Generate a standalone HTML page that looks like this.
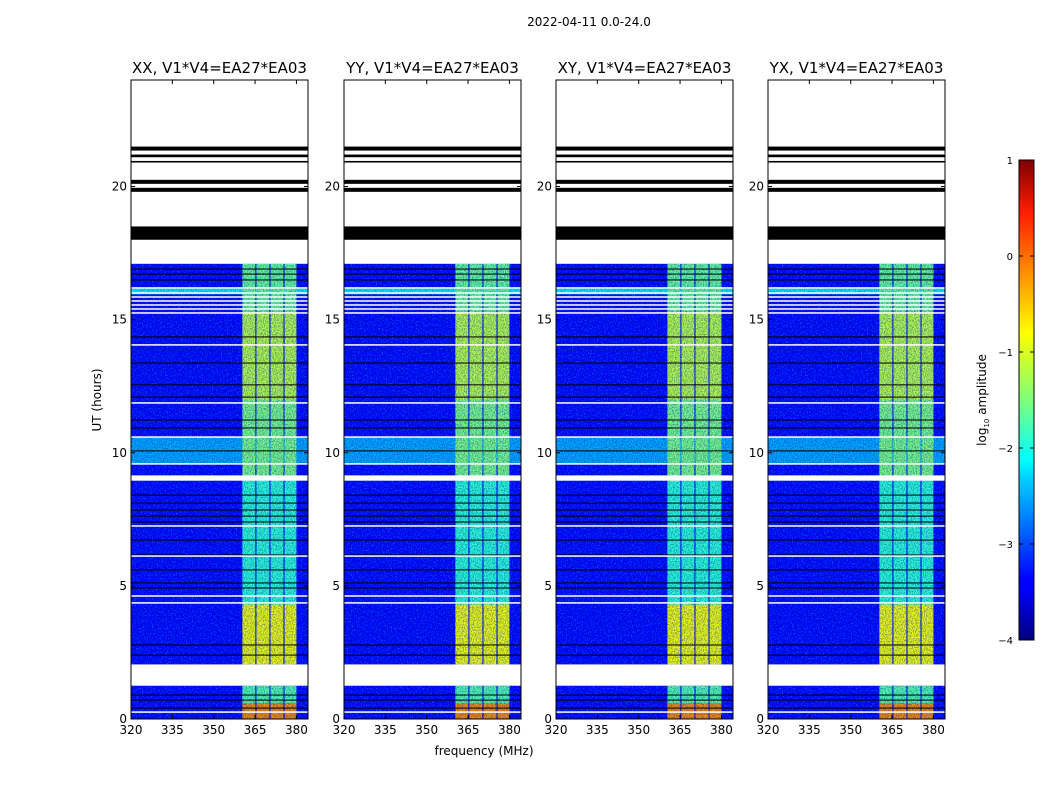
<!DOCTYPE html>
<html><head><meta charset="utf-8">
<style>
html,body{margin:0;padding:0;background:#fff;}
svg{display:block;font-family:"DejaVu Sans","Liberation Sans",sans-serif;}
</style></head>
<body>
<svg id="fig" width="1050" height="800" viewBox="0 0 1050 800" xmlns="http://www.w3.org/2000/svg">
<defs>
<filter id="noise" x="0" y="0" width="100%" height="100%">
<feTurbulence type="fractalNoise" baseFrequency="0.9 0.7" numOctaves="1" seed="3" result="t"/>
<feColorMatrix in="t" type="matrix" values="0 0 0 0 0  0 0 0 0 0  0 0 0 0 0.3  1.2 0 0 0 -0.45"/>
</filter>
<filter id="noise2" x="0" y="0" width="100%" height="100%">
<feTurbulence type="fractalNoise" baseFrequency="0.8 0.6" numOctaves="1" seed="11" result="t"/>
<feColorMatrix in="t" type="matrix" values="0 0 0 0 0  0 0 0 0 0.8  0 0 0 0 1  1.3 0 0 0 -0.62"/>
</filter>
<linearGradient id="jet" x1="0" y1="1" x2="0" y2="0">
<stop offset="0" stop-color="#00007f"/><stop offset="0.11" stop-color="#0000ff"/>
<stop offset="0.125" stop-color="#0000ff"/><stop offset="0.34" stop-color="#00d4ff"/>
<stop offset="0.375" stop-color="#00ffff"/><stop offset="0.5" stop-color="#7dff7a"/>
<stop offset="0.64" stop-color="#ffff00"/><stop offset="0.89" stop-color="#ff1e00"/>
<stop offset="1" stop-color="#7f0000"/>
</linearGradient>
</defs>
<text x="589" y="26" font-size="12" text-anchor="middle">2022-04-11 0.0-24.0</text>
<g id="panels"></g>
<text x="484" y="755" font-size="12" text-anchor="middle">frequency (MHz)</text>
<text transform="translate(101,400) rotate(-90)" font-size="12" text-anchor="middle">UT (hours)</text>
<g id="cbar"></g>
</svg>
<script>
const panelTitles = ["XX, V1*V4=EA27*EA03","YY, V1*V4=EA27*EA03","XY, V1*V4=EA27*EA03","YX, V1*V4=EA27*EA03"];
const xTicks = [320,335,350,365,380];
const yTicks = [0,5,10,15,20];
const cbarTicks = [1,0,-1,-2,-3,-4];
const channels = [[360.4,365.1],[365.5,370.2],[370.6,375.3],[375.7,380.0]];
const bgBlocks = [[0,17.1,-3.35],[9.6,10.6,-2.55],[15.95,16.2,-2.2]];
const bandBlocks = [[0,0.6,-0.3],[0.6,1.25,-1.7],[2.05,4.3,-0.9],[4.3,9.0,-1.9],[9.0,12.0,-1.5],[12.0,15.3,-1.2],[15.3,17.1,-1.6]];
const whiteBlocks = [[17.1,24],[1.25,2.05]];
const blackBands = [[21.35,21.5],[21.1,21.2],[20.9,20.96],[20.1,20.25],[19.8,19.95],[18.0,18.5]];
const blackLines = [16.9,16.71,16.49,14.35,13.37,12.55,12.09,11.23,10.93,10.07,8.41,8.11,7.85,7.62,7.40,6.72,6.16,5.60,5.11,4.92,2.78,2.40,0.90,0.71,0.41];
const whiteLines = [16.19,16.0,15.85,15.70,15.55,15.40,15.25,14.05,11.87,10.59,9.58,6.12,7.25,4.62,4.36,0.26];
const thickWhite = [[8.95,9.15]];
const panelLeft = [131,344,556,768];
const panelW = 177, yTop = 80, yBot = 719;
const fMin = 320, fMax = 384.2, hMin = 0, hMax = 24;
const NS="http://www.w3.org/2000/svg";
function el(t,a,p){const e=document.createElementNS(NS,t);for(const k in a)e.setAttribute(k,a[k]);p.appendChild(e);return e;}
function yS(h){return yBot-(h-hMin)/(hMax-hMin)*(yBot-yTop);}
function jet(v){
  let t=(v+4)/5; t=Math.max(0,Math.min(1,t));
  const r=Math.min(Math.max(Math.min(4*t-1.5,-4*t+4.5),0),1);
  const g=Math.min(Math.max(Math.min(4*t-0.5,-4*t+3.5),0),1);
  const b=Math.min(Math.max(Math.min(4*t+0.5,-4*t+2.5),0),1);
  return `rgb(${Math.round(r*255)},${Math.round(g*255)},${Math.round(b*255)})`;
}
const G=document.getElementById('panels');
panelTitles.forEach((title,i)=>{
  const x0=panelLeft[i];
  const xS=f=>x0+(f-fMin)/(fMax-fMin)*panelW;
  const g=el('g',{},G);
  
  
  const cp=el('clipPath',{id:'cp'+i},g); el('rect',{x:x0,y:yTop,width:panelW,height:yBot-yTop},cp);
  const img=el('g',{'clip-path':`url(#cp${i})`},g);
  
  
  bgBlocks.forEach(b=>{const r=el('rect',{x:x0,y:yS(b[1]),width:panelW,height:yS(b[0])-yS(b[1]),fill:jet(b[2])},img);
    });
  bandBlocks.forEach(b=>channels.forEach(c=>{
    const r=el('rect',{x:xS(c[0]),y:yS(b[1]),width:xS(c[1])-xS(c[0]),height:yS(b[0])-yS(b[1]),fill:jet(b[2])},img);
    
  }));
  el('rect',{x:x0,y:yS(17.1),width:panelW,height:yS(0)-yS(17.1),fill:'#000',filter:'url(#noise2)'},img);
  el('rect',{x:x0,y:yS(17.1),width:panelW,height:yS(0)-yS(17.1),fill:'#000',filter:'url(#noise)'},img);
  whiteBlocks.forEach(b=>{const r=el('rect',{x:x0,y:yS(b[1]),width:panelW,height:yS(b[0])-yS(b[1]),fill:'#fff'},img);
    });
  thickWhite.forEach(b=>{const r=el('rect',{x:x0,y:yS(b[1]),width:panelW,height:yS(b[0])-yS(b[1]),fill:'#fff'},img);
    });
  blackBands.forEach(b=>{const r=el('rect',{x:x0,y:yS(b[1]),width:panelW,height:yS(b[0])-yS(b[1]),fill:'#000'},img);
    });
  blackLines.forEach(h=>{const r=el('rect',{x:x0,y:yS(h)-0.5,width:panelW,height:1,fill:'#000'},img);
    });
  whiteLines.forEach(h=>{const r=el('rect',{x:x0,y:yS(h)-0.75,width:panelW,height:1.5,fill:'#fff'},img);
    });
  const fr=el('rect',{x:x0,y:yTop,width:panelW,height:yBot-yTop,fill:'none',stroke:'#000','stroke-width':1},g);
  
  xTicks.forEach(f=>{const x=xS(f);
    el('line',{x1:x,x2:x,y1:yBot,y2:yBot-4,stroke:'#000'},g);
    el('line',{x1:x,x2:x,y1:yTop,y2:yTop+4,stroke:'#000'},g);
    const t=el('text',{x:x,y:yBot+15,'font-size':12,'text-anchor':'middle'},g);t.textContent=f;
    });
  yTicks.forEach(h=>{const y=yS(h);
    el('line',{x1:x0,x2:x0+4,y1:y,y2:y,stroke:'#000'},g);
    el('line',{x1:x0+panelW,x2:x0+panelW-4,y1:y,y2:y,stroke:'#000'},g);
    const t=el('text',{x:x0-4,y:y+4,'font-size':12,'text-anchor':'end'},g);t.textContent=h;
    });
  const tt=el('text',{x:x0+panelW/2,y:73,'font-size':15,'text-anchor':'middle'},g);tt.textContent=title;
  
});
const C=document.getElementById('cbar');
const cx=1019,cw=15,cTop=160,cBot=640,vMin=-4,vMax=1;
const cyS=v=>cBot-(v-vMin)/(vMax-vMin)*(cBot-cTop);
el('rect',{x:cx,y:cTop,width:cw,height:cBot-cTop,fill:'url(#jet)',stroke:'#000'},C);
cbarTicks.forEach(v=>{const y=cyS(v);
  el('line',{x1:cx,x2:cx+4,y1:y,y2:y,stroke:'#000'},C);
  el('line',{x1:cx+cw,x2:cx+cw-4,y1:y,y2:y,stroke:'#000'},C);
  const t=el('text',{x:cx-6,y:y+4,'font-size':10,'text-anchor':'end'},C);t.textContent=(v<0?'\u2212'+(-v):v);
  });
const lab=el('text',{transform:'translate(986,400) rotate(-90)','font-size':12,'text-anchor':'middle'},C);

lab.innerHTML='log<tspan font-size="7" dy="3">10</tspan><tspan dy="-3"> amplitude</tspan>';
</script>
</body></html>
